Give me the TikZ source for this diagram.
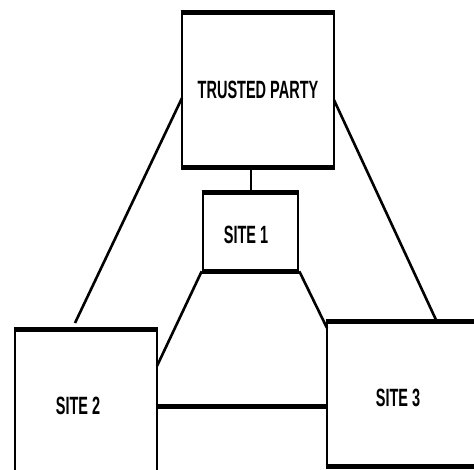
\documentclass[tikz,border=0pt]{standalone}
\usepackage{fontspec}
\setmainfont{Liberation Sans}
\begin{document}
\begin{tikzpicture}[x=1pt,y=-1pt,
  site/.style={draw=black,line width=2.6pt,minimum width=#1,inner sep=0pt,fill=white},
  lbl/.style={font=\bfseries\fontsize{25}{25}\selectfont,xscale=0.58,inner sep=0pt},
  link/.style={draw=black,line width=2.6pt},
  heavy/.style={line width=5.5pt,line cap=butt}]
\useasboundingbox (0,0) rectangle (474,470);
\clip (0,0) rectangle (474,470);
\fill[white] (0,0) rectangle (474,470);

% boxes
\node[site=152pt,minimum height=152pt] (tp) at (258,90) {};
\node[site=95pt,minimum height=76pt] (s1) at (250.5,232) {};
\node[site=142pt,minimum height=154pt] (s2) at (86,408) {};
\node[site=163pt,minimum height=142pt] (s3) at (408.5,394) {};

% thick top and bottom edges
\foreach \b in {tp,s1,s2,s3}{
  \draw[heavy] (\b.north west) -- (\b.north east);
  \draw[heavy] (\b.south west) -- (\b.south east);
}

% labels
\node[lbl] (tpl) at (258,90) {TRUSTED PARTY};
\node[lbl] (s1l) at (246,235) {SITE 1};
\node[lbl] (s2l) at (78,406) {SITE 2};
\node[lbl] (s3l) at (398,398) {SITE 3};

% connector end points
\coordinate (tpL) at (182,98);
\coordinate (tpR) at (334,100);
\coordinate (s2top) at (75,323);
\coordinate (s3top) at (437,322);
\coordinate (s2a) at (157,366);
\coordinate (s3a) at (327,328);
\coordinate (s2b) at (157,406);
\coordinate (s3b) at (327,406);

% connectors
\draw[link] (tpL) -- (s2top);
\draw[link] (tpR) -- (s3top);
\draw[draw=black,line width=2pt] (s1.north) -- (s1.north |- tp.south);
\draw[link] (s1.south west) -- (s2a);
\draw[link] (s1.south east) -- (s3a);
\draw[draw=black,line width=5pt] (s2b) -- (s3b);
\end{tikzpicture}
\end{document}
